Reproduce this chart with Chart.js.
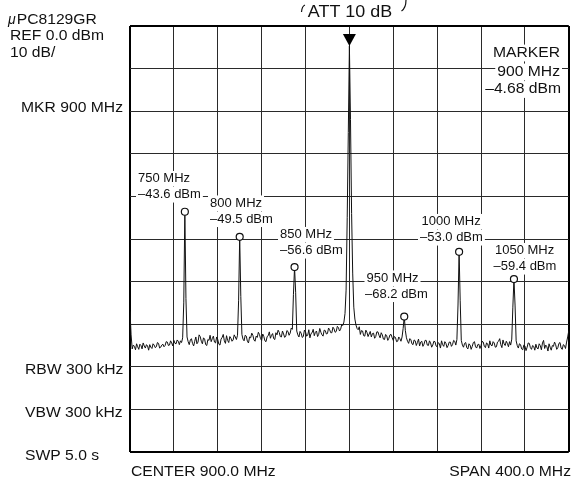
<!DOCTYPE html>
<html>
<head>
<meta charset="utf-8">
<script src="https://cdn.jsdelivr.net/npm/chart.js@4.4.0/dist/chart.umd.min.js"></script>
<style>
  body { margin: 0; background: #fff; }
  #wrap { width: 574px; height: 480px; position: relative; }
</style>
</head>
<body>
<div id="wrap"><canvas id="spectrum"></canvas></div>
<script>
// Sweep settings: trace sampled every 1 MHz from 700 MHz to 1100 MHz
const startMHz = 700;
const stepMHz = 1;

// Trace level in dBm, ten samples (10 MHz) per row
const traceDbm = [
  -67.0, -72.5, -75.8, -74.9, -75.2, -76.0, -74.6, -75.3, -75.9, -74.7,
  -75.0, -75.8, -74.4, -75.1, -75.6, -74.8, -75.1, -76.1, -74.8, -75.4,
  -75.7, -74.6, -74.9, -75.5, -75.3, -74.3, -74.5, -75.6, -75.4, -74.9,
  -74.7, -75.3, -75.0, -74.1, -74.2, -75.0, -74.9, -73.9, -74.4, -75.1,
  -73.8, -74.5, -74.6, -73.7, -74.0, -74.8, -73.9, -74.3, -73.2, -65.0,
  -43.6, -64.0, -73.0, -74.1, -74.8, -73.7, -73.4, -74.5, -75.1, -74.0,
  -73.0, -74.6, -74.2, -72.5, -72.9, -74.0, -74.6, -73.2, -73.5, -74.8,
  -75.0, -73.6, -73.8, -72.6, -74.1, -73.4, -72.8, -74.2, -74.4, -73.0,
  -73.6, -74.7, -74.9, -73.5, -73.1, -72.4, -73.9, -74.5, -72.7, -73.8,
  -74.3, -72.9, -73.3, -74.0, -73.7, -72.5, -73.0, -73.6, -72.6, -64.5,
  -49.5, -63.5, -72.4, -73.5, -73.9, -72.6, -72.8, -74.0, -74.4, -73.0,
  -73.2, -72.1, -72.6, -73.7, -74.0, -72.8, -73.1, -71.9, -72.4, -73.4,
  -73.8, -72.3, -72.9, -73.9, -74.1, -72.9, -72.7, -71.8, -73.3, -72.6,
  -72.2, -73.4, -73.6, -72.0, -72.5, -71.4, -71.9, -72.9, -73.0, -71.6,
  -72.3, -73.1, -72.8, -71.5, -71.7, -72.6, -72.1, -70.9, -71.2, -63.0,
  -56.6, -62.5, -71.6, -72.5, -73.0, -71.7, -72.1, -73.1, -72.9, -71.4,
  -71.8, -72.8, -72.6, -71.3, -73.2, -72.2, -72.0, -71.2, -72.7, -71.9,
  -71.6, -72.9, -72.4, -71.0, -71.9, -72.5, -72.8, -71.4, -71.5, -72.3,
  -72.2, -70.9, -71.3, -72.0, -72.0, -70.7, -71.1, -71.9, -71.7, -70.5,
  -70.8, -71.6, -71.2, -70.1, -70.3, -69.5, -67.5, -62.0, -45.0, -25.0,
  -4.68, -22.0, -44.0, -58.0, -66.0, -68.8, -70.2, -71.0, -71.3, -70.6,
  -72.4, -71.5, -71.6, -72.7, -72.8, -71.4, -71.9, -72.9, -72.3, -71.7,
  -73.0, -72.2, -72.1, -73.3, -72.9, -71.8, -71.8, -72.6, -73.2, -72.0,
  -72.5, -73.5, -73.6, -72.4, -72.7, -73.8, -73.3, -72.5, -72.4, -73.2,
  -73.8, -72.9, -73.1, -74.1, -74.0, -73.0, -73.4, -74.0, -73.0, -71.0,
  -68.2, -71.5, -73.2, -74.0, -74.5, -73.4, -73.6, -74.6, -74.8, -73.7,
  -73.9, -75.0, -74.3, -73.5, -75.1, -74.2, -74.0, -75.2, -74.7, -73.8,
  -73.8, -74.9, -75.0, -73.9, -74.4, -75.4, -74.9, -74.0, -74.1, -75.1,
  -75.3, -74.3, -74.6, -75.6, -73.9, -74.8, -75.2, -74.1, -74.5, -75.5,
  -75.0, -74.2, -74.2, -75.2, -74.8, -73.8, -74.0, -74.9, -73.6, -65.5,
  -53.0, -64.5, -73.8, -74.9, -75.4, -74.5, -74.3, -75.5, -75.8, -74.6,
  -74.9, -75.9, -75.2, -74.3, -74.1, -75.3, -75.6, -74.8, -74.7, -75.7,
  -75.0, -74.0, -74.2, -75.2, -75.5, -74.4, -74.6, -75.6, -73.9, -74.9,
  -75.1, -74.1, -74.4, -75.4, -75.3, -74.2, -74.0, -73.4, -74.8, -75.5,
  -73.7, -74.6, -75.0, -74.0, -74.5, -75.3, -74.1, -74.9, -73.5, -66.0,
  -59.4, -65.5, -73.9, -75.0, -75.6, -74.6, -74.8, -75.8, -76.0, -74.9,
  -75.1, -76.2, -75.4, -74.4, -74.5, -75.5, -75.9, -75.0, -75.2, -76.1,
  -74.7, -75.6, -75.8, -74.6, -75.0, -76.0, -74.4, -73.8, -75.7, -74.9,
  -75.3, -76.3, -74.6, -75.4, -76.1, -75.0, -75.2, -74.2, -74.8, -75.9,
  -75.5, -74.5, -74.3, -75.6, -75.9, -74.8, -75.0, -75.7, -74.2, -73.0,
  -71.5
];

// Harmonic markers (circles)
const markerMHz = [750, 800, 850, 950, 1000, 1050];
const markerDbm = [-43.6, -49.5, -56.6, -68.2, -53.0, -59.4];

// Main marker (triangle)
const mainMHz = 900;
const mainDbm = -4.68;

// Graticule: 10 divisions each way
const xGrid = [700, 740, 780, 820, 860, 900, 940, 980, 1020, 1060, 1100];
const yGrid = [-100, -90, -80, -70, -60, -50, -40, -30, -20, -10, 0];

const FONT = '"Liberation Sans", Arial, sans-serif';
const WIDE = 1.12; // the analyzer's lettering runs a little wide

// Text outside the graticule: [text, x, baseline, align, size]
const sideText = [
  ['REF 0.0 dBm', 10, 40, 'left', 14],
  ['10 dB/', 10, 56.5, 'left', 14],
  ['MKR 900 MHz', 123, 111.5, 'right', 14],
  ['RBW 300 kHz', 25, 374, 'left', 14],
  ['VBW 300 kHz', 25, 416.5, 'left', 14],
  ['SWP 5.0 s', 25, 460, 'left', 14],
  ['CENTER 900.0 MHz', 131, 476, 'left', 14],
  ['SPAN 400.0 MHz', 571, 476, 'right', 14],
  ['ATT 10 dB', 350, 16.5, 'center', 16],
  ['MARKER', 560, 56.5, 'right', 14],
  ['900 MHz', 560, 75.5, 'right', 14],
  ['\u20134.68 dBm', 561, 93, 'right', 14]
];

// Marker readouts: two lines each, [x, baseline] of the first line
const readoutPos = [[138, 182], [210, 206.5], [280, 238], [366.5, 281.5], [421.5, 225], [495, 254]];

function drawText(ctx, text, x, y, align, size, stretch, mask) {
  ctx.font = size + 'px ' + FONT;
  const w = ctx.measureText(text).width * stretch;
  let left = x;
  if (align === 'right') left = x - w;
  if (align === 'center') left = x - w / 2;
  if (mask) {
    ctx.fillStyle = '#fff';
    ctx.fillRect(left - 2, y - size * 0.85, w + 4, size * 1.2);
  }
  ctx.save();
  ctx.translate(left, y);
  ctx.scale(stretch, 1);
  ctx.fillStyle = '#111';
  ctx.textAlign = 'left';
  ctx.textBaseline = 'alphabetic';
  ctx.fillText(text, 0, 0);
  ctx.restore();
  return w;
}

const labelPlugin = {
  id: 'labels',
  beforeDatasetsDraw(chart) {
    const ctx = chart.ctx;
    ctx.save();
    sideText.forEach(([t, x, y, a, s]) => drawText(ctx, t, x, y, a, s, WIDE, true));

    // part name, with an italic mu
    ctx.font = 'italic 14px ' + FONT;
    ctx.fillStyle = '#111';
    ctx.fillText('\u03bc', 8, 23.5);
    const mu = ctx.measureText('\u03bc').width;
    drawText(ctx, 'PC8129GR', 8 + mu + 1, 23.5, 'left', 14, WIDE, false);

    // readouts beside each harmonic
    markerMHz.forEach((f, i) => {
      const [x, y] = readoutPos[i];
      const lvl = '\u2013' + Math.abs(markerDbm[i]).toFixed(1) + ' dBm';
      drawText(ctx, f + ' MHz', x, y, 'left', 13, 1, true);
      drawText(ctx, lvl, i >= 3 ? x - 1.5 : x, y + 16, 'left', 13, 1, true);
    });

    // bracket ends around the attenuator note
    ctx.strokeStyle = '#111';
    ctx.lineWidth = 1.2;
    ctx.beginPath();
    ctx.moveTo(305, 5);
    ctx.quadraticCurveTo(302, 6, 301.5, 12);
    ctx.moveTo(406, 0);
    ctx.quadraticCurveTo(406, 8, 401.5, 11);
    ctx.stroke();
    ctx.restore();
  },
  afterDatasetsDraw(chart) {
    // filled triangle sitting on the main peak
    const ctx = chart.ctx;
    const x = chart.scales.x.getPixelForValue(mainMHz);
    const y = chart.scales.y.getPixelForValue(mainDbm);
    ctx.save();
    ctx.fillStyle = '#000';
    ctx.beginPath();
    ctx.moveTo(x, y);
    ctx.lineTo(x - 6.5, y - 12);
    ctx.lineTo(x + 6.5, y - 12);
    ctx.closePath();
    ctx.fill();
    ctx.restore();
  }
};

const tracePoints = traceDbm.map((v, i) => ({ x: startMHz + i * stepMHz, y: v }));
const markerPoints = markerMHz.map((f, i) => ({ x: f, y: markerDbm[i] }));

function gridStyle(count) {
  return {
    drawTicks: false,
    color: ctx => (ctx.index === 0 || ctx.index === count - 1) ? '#000' : '#2a2a2a',
    lineWidth: ctx => (ctx.index === 0 || ctx.index === count - 1) ? 2 : 1
  };
}

new Chart(document.getElementById('spectrum'), {
  type: 'line',
  data: {
    datasets: [
      {
        data: tracePoints,
        borderColor: '#111',
        borderWidth: 1,
        pointRadius: 0,
        tension: 0,
        order: 1
      },
      {
        type: 'scatter',
        data: markerPoints,
        showLine: false,
        pointRadius: 3.5,
        pointBackgroundColor: '#fff',
        pointBorderColor: '#111',
        pointBorderWidth: 1.2,
        order: 0
      }
    ]
  },
  options: {
    responsive: true,
    maintainAspectRatio: false,
    animation: false,
    layout: { padding: { left: 130, top: 26, right: 4, bottom: 28 } },
    plugins: { legend: { display: false }, tooltip: { enabled: false } },
    scales: {
      x: {
        type: 'linear',
        min: 700,
        max: 1100,
        afterBuildTicks: s => { s.ticks = xGrid.map(v => ({ value: v })); },
        ticks: { display: false },
        grid: gridStyle(xGrid.length),
        border: { display: false }
      },
      y: {
        min: -100,
        max: 0,
        afterBuildTicks: s => { s.ticks = yGrid.map(v => ({ value: v })); },
        ticks: { display: false },
        grid: gridStyle(yGrid.length),
        border: { display: false }
      }
    }
  },
  plugins: [labelPlugin]
});
</script>
</body>
</html>
